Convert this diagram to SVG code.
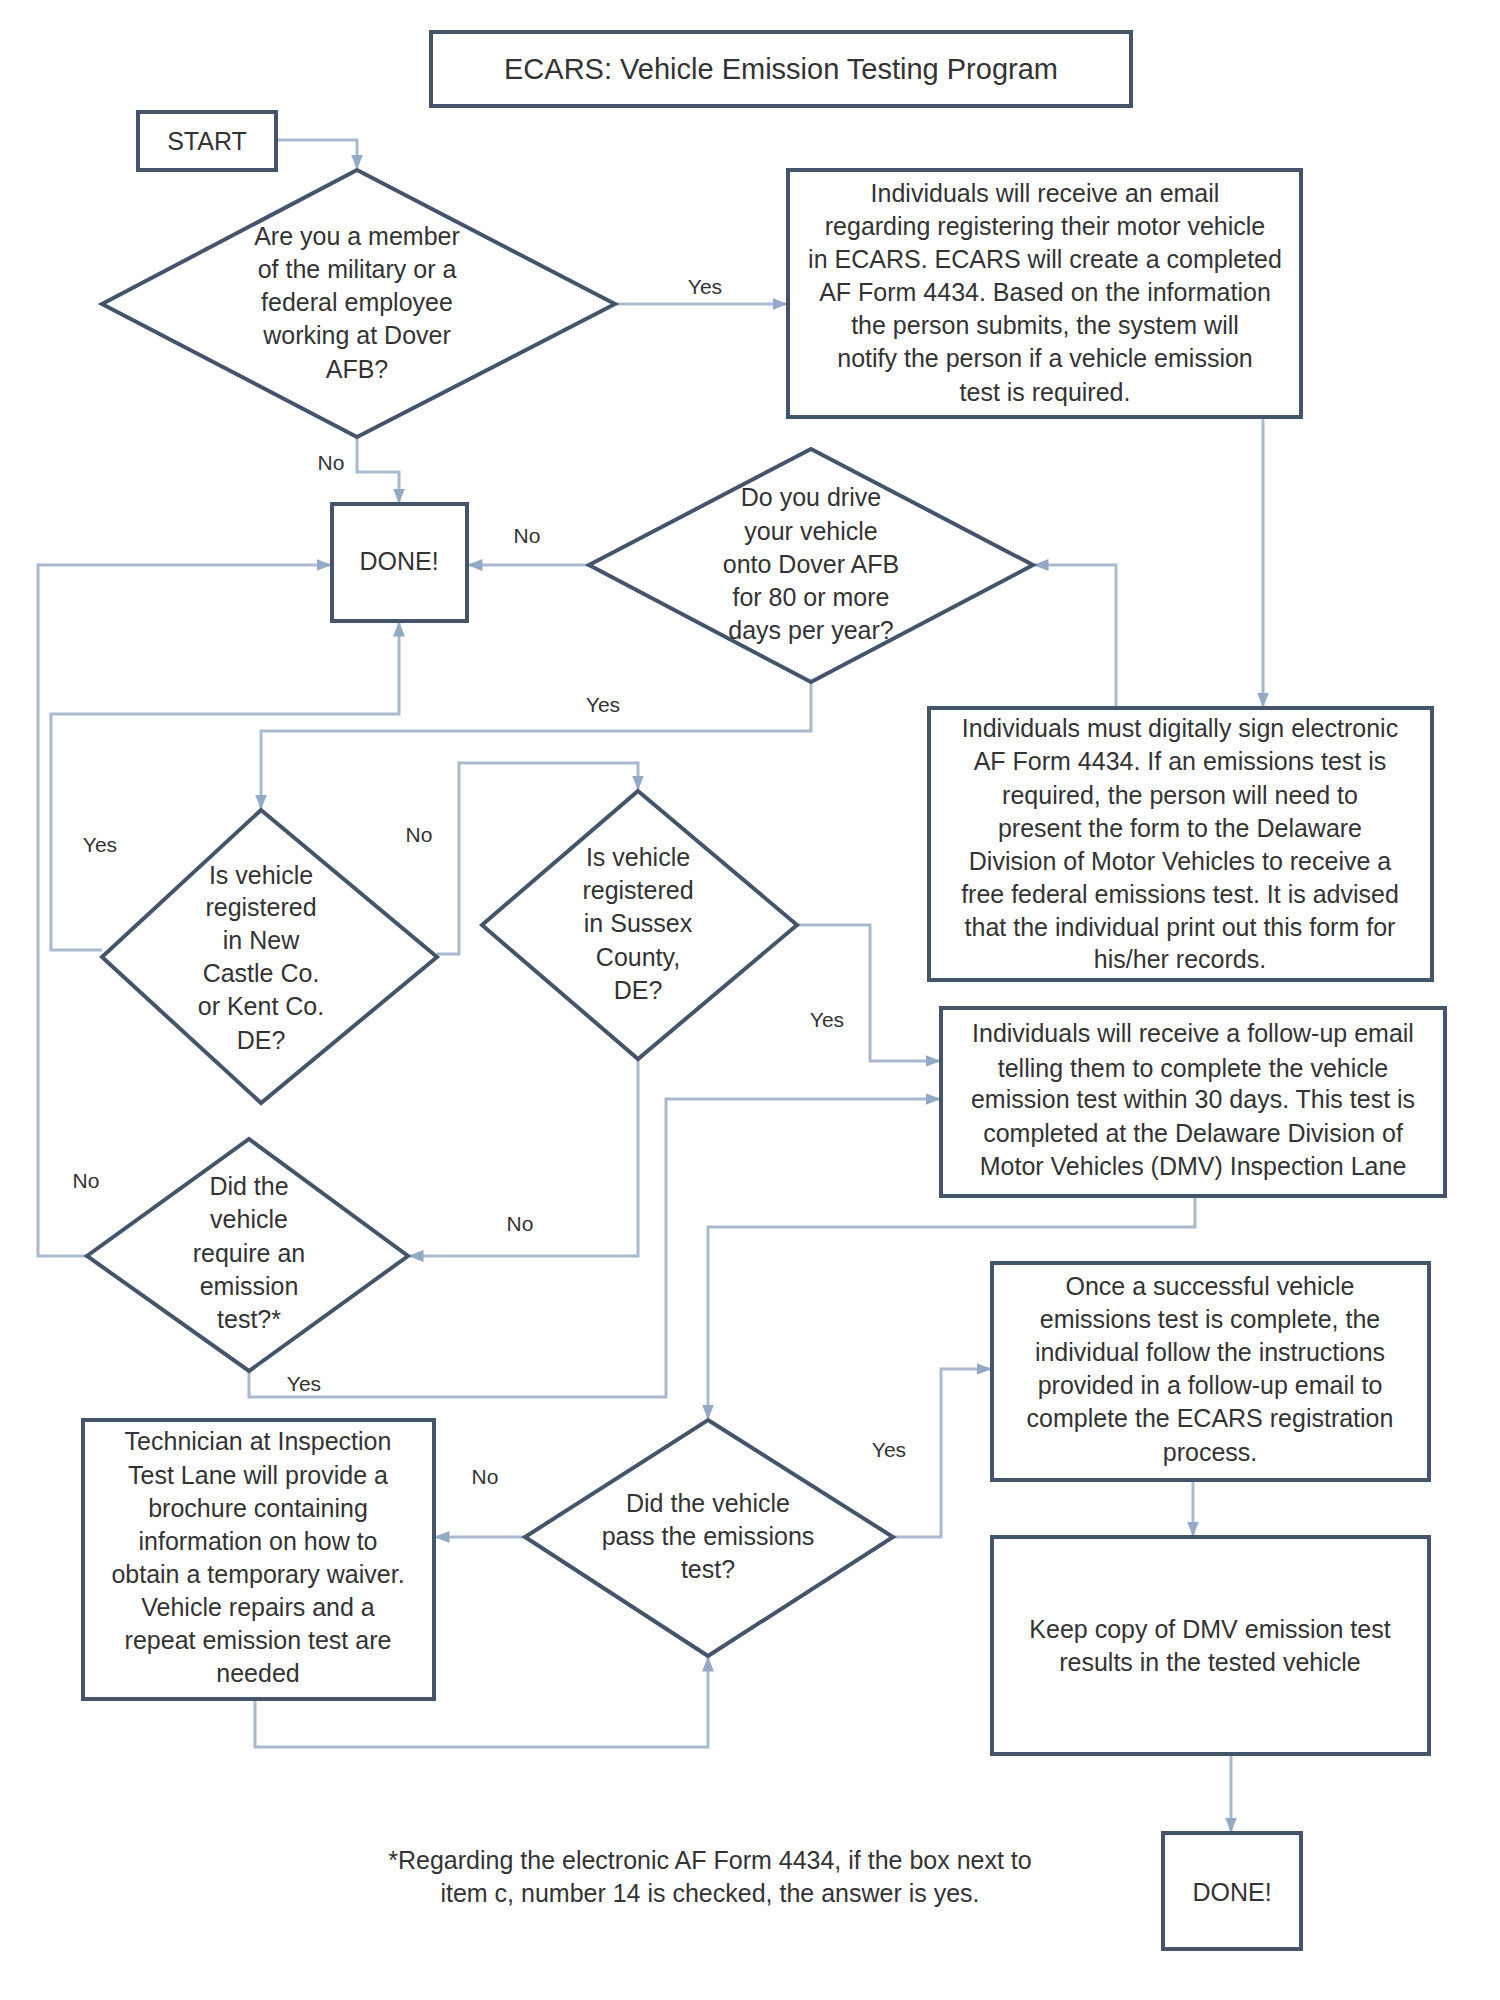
<svg xmlns="http://www.w3.org/2000/svg" width="1500" height="2000" viewBox="0 0 1500 2000">
<style>
.box{fill:#fff;stroke:#44546a;stroke-width:4}
.con{fill:none;stroke:#a9bad0;stroke-width:3}
text{font-family:"Liberation Sans",Arial,sans-serif;font-size:25px;fill:#333;text-anchor:middle}
.title{font-size:29px}
.lbl{font-size:21px}
</style>
<defs>
<marker id="ah" viewBox="0 0 10 10" refX="9" refY="5" markerWidth="5" markerHeight="5" orient="auto">
<path d="M0,1 L10,5 L0,9 z" fill="#93a9c6"/>
</marker>
</defs>
<rect width="1500" height="2000" fill="#fff"/>
<g id="connectors">
<polyline class="con" points="276,140 357,140 357,168" marker-end="url(#ah)"/>
<polyline class="con" points="615,304 786,304" marker-end="url(#ah)"/>
<polyline class="con" points="357,437 357,472 399,472 399,502" marker-end="url(#ah)"/>
<polyline class="con" points="1263,417 1263,706" marker-end="url(#ah)"/>
<polyline class="con" points="589,565 469,565" marker-end="url(#ah)"/>
<polyline class="con" points="1116,708 1116,565 1035,565" marker-end="url(#ah)"/>
<polyline class="con" points="811,682 811,731 261,731 261,808" marker-end="url(#ah)"/>
<polyline class="con" points="102,950 51,950 51,714 399,714 399,623" marker-end="url(#ah)"/>
<polyline class="con" points="87,1256 38,1256 38,565 330,565" marker-end="url(#ah)"/>
<polyline class="con" points="437,954 459,954 459,763 638,763 638,789" marker-end="url(#ah)"/>
<polyline class="con" points="797,925 870,925 870,1061 939,1061" marker-end="url(#ah)"/>
<polyline class="con" points="638,1059 638,1256 410,1256" marker-end="url(#ah)"/>
<polyline class="con" points="249,1371 249,1397 666,1397 666,1099 939,1099" marker-end="url(#ah)"/>
<polyline class="con" points="1195,1196 1195,1227 708,1227 708,1418" marker-end="url(#ah)"/>
<polyline class="con" points="525,1537 436,1537" marker-end="url(#ah)"/>
<polyline class="con" points="255,1699 255,1747 708,1747 708,1658" marker-end="url(#ah)"/>
<polyline class="con" points="893,1537 941,1537 941,1369 990,1369" marker-end="url(#ah)"/>
<polyline class="con" points="1193,1480 1193,1535" marker-end="url(#ah)"/>
<polyline class="con" points="1231,1754 1231,1831" marker-end="url(#ah)"/>
<text class="lbl" x="705" y="294">Yes</text>
<text class="lbl" x="331" y="470">No</text>
<text class="lbl" x="527" y="543">No</text>
<text class="lbl" x="603" y="712">Yes</text>
<text class="lbl" x="100" y="852">Yes</text>
<text class="lbl" x="419" y="842">No</text>
<text class="lbl" x="827" y="1027">Yes</text>
<text class="lbl" x="86" y="1188">No</text>
<text class="lbl" x="520" y="1231">No</text>
<text class="lbl" x="304" y="1391">Yes</text>
<text class="lbl" x="485" y="1484">No</text>
<text class="lbl" x="889" y="1457">Yes</text>
</g>
<g id="title">
<rect class="box" x="431" y="32" width="700" height="74"/>
<text class="title" x="781" y="79">ECARS: Vehicle Emission Testing Program</text>
</g>
<g id="start">
<rect class="box" x="138" y="112" width="138" height="58"/>
<text x="207" y="150">START</text>
</g>
<g id="q-member">
<polygon class="box" points="357,170 615,304 357,437 102,304"/>
<text x="357" y="245">Are you a member</text>
<text x="357" y="278">of the military or a</text>
<text x="357" y="311">federal employee</text>
<text x="357" y="344">working at Dover</text>
<text x="357" y="378">AFB?</text>
</g>
<g id="email-box">
<rect class="box" x="788" y="170" width="513" height="247"/>
<text x="1045" y="202">Individuals will receive an email</text>
<text x="1045" y="235">regarding registering their motor vehicle</text>
<text x="1045" y="268">in ECARS.  ECARS will create a completed</text>
<text x="1045" y="301">AF Form 4434.  Based on the information</text>
<text x="1045" y="334">the person submits, the system will</text>
<text x="1045" y="367">notify the person if a vehicle emission</text>
<text x="1045" y="401">test is required.</text>
</g>
<g id="done1">
<rect class="box" x="332" y="504" width="135" height="117"/>
<text x="399" y="570">DONE!</text>
</g>
<g id="q-drive">
<polygon class="box" points="811,449 1033,565 811,682 589,565"/>
<text x="811" y="506">Do you drive</text>
<text x="811" y="540">your vehicle</text>
<text x="811" y="573">onto Dover AFB</text>
<text x="811" y="606">for 80 or more</text>
<text x="811" y="639">days per year?</text>
</g>
<g id="sign-box">
<rect class="box" x="929" y="708" width="503" height="272"/>
<text x="1180" y="737">Individuals must digitally sign electronic</text>
<text x="1180" y="770">AF Form 4434.  If an emissions test is</text>
<text x="1180" y="804">required,  the person will need to</text>
<text x="1180" y="837">present the form to the  Delaware</text>
<text x="1180" y="870">Division of Motor Vehicles to receive a</text>
<text x="1180" y="903">free federal emissions test.  It is advised</text>
<text x="1180" y="936">that the  individual print out this form for</text>
<text x="1180" y="968">his/her records.</text>
</g>
<g id="q-newcastle">
<polygon class="box" points="261,810 437,957 261,1103 102,957"/>
<text x="261" y="884">Is vehicle</text>
<text x="261" y="916">registered</text>
<text x="261" y="949">in New</text>
<text x="261" y="982">Castle Co.</text>
<text x="261" y="1015">or Kent Co.</text>
<text x="261" y="1049">DE?</text>
</g>
<g id="q-sussex">
<polygon class="box" points="638,791 797,925 638,1059 482,925"/>
<text x="638" y="866">Is vehicle</text>
<text x="638" y="899">registered</text>
<text x="638" y="932">in Sussex</text>
<text x="638" y="966">County,</text>
<text x="638" y="999">DE?</text>
</g>
<g id="followup-box">
<rect class="box" x="941" y="1008" width="504" height="188"/>
<text x="1193" y="1042">Individuals will receive a follow-up email</text>
<text x="1193" y="1077">telling them to  complete the  vehicle</text>
<text x="1193" y="1108">emission test within 30 days.  This test is</text>
<text x="1193" y="1142">completed at the Delaware Division of</text>
<text x="1193" y="1175">Motor Vehicles (DMV)  Inspection Lane</text>
</g>
<g id="q-require">
<polygon class="box" points="249,1139 408,1256 249,1371 87,1256"/>
<text x="249" y="1195">Did the</text>
<text x="249" y="1228">vehicle</text>
<text x="249" y="1262">require an</text>
<text x="249" y="1295">emission</text>
<text x="249" y="1328">test?*</text>
</g>
<g id="success-box">
<rect class="box" x="992" y="1263" width="437" height="217"/>
<text x="1210" y="1295">Once a successful vehicle</text>
<text x="1210" y="1328">emissions test is complete, the</text>
<text x="1210" y="1361">individual follow the instructions</text>
<text x="1210" y="1394">provided in a follow-up email to</text>
<text x="1210" y="1427">complete the ECARS  registration</text>
<text x="1210" y="1461">process.</text>
</g>
<g id="technician-box">
<rect class="box" x="83" y="1420" width="351" height="279"/>
<text x="258" y="1450">Technician at Inspection</text>
<text x="258" y="1484">Test Lane will provide a</text>
<text x="258" y="1517">brochure containing</text>
<text x="258" y="1550">information on how to</text>
<text x="258" y="1583">obtain a temporary waiver.</text>
<text x="258" y="1616">Vehicle repairs and a</text>
<text x="258" y="1649">repeat emission test are</text>
<text x="258" y="1682">needed</text>
</g>
<g id="q-pass">
<polygon class="box" points="708,1420 893,1537 708,1656 525,1537"/>
<text x="708" y="1512">Did the vehicle</text>
<text x="708" y="1545">pass the emissions</text>
<text x="708" y="1578">test?</text>
</g>
<g id="keep-box">
<rect class="box" x="992" y="1537" width="437" height="217"/>
<text x="1210" y="1638">Keep copy of DMV emission test</text>
<text x="1210" y="1671">results in the tested  vehicle</text>
</g>
<g id="done2">
<rect class="box" x="1163" y="1833" width="138" height="116"/>
<text x="1232" y="1901">DONE!</text>
</g>
<g id="footnote">
<text x="710" y="1869">*Regarding the electronic AF Form 4434, if the box next to</text>
<text x="710" y="1902">item c, number 14 is checked, the answer is yes.</text>
</g>
</svg>
